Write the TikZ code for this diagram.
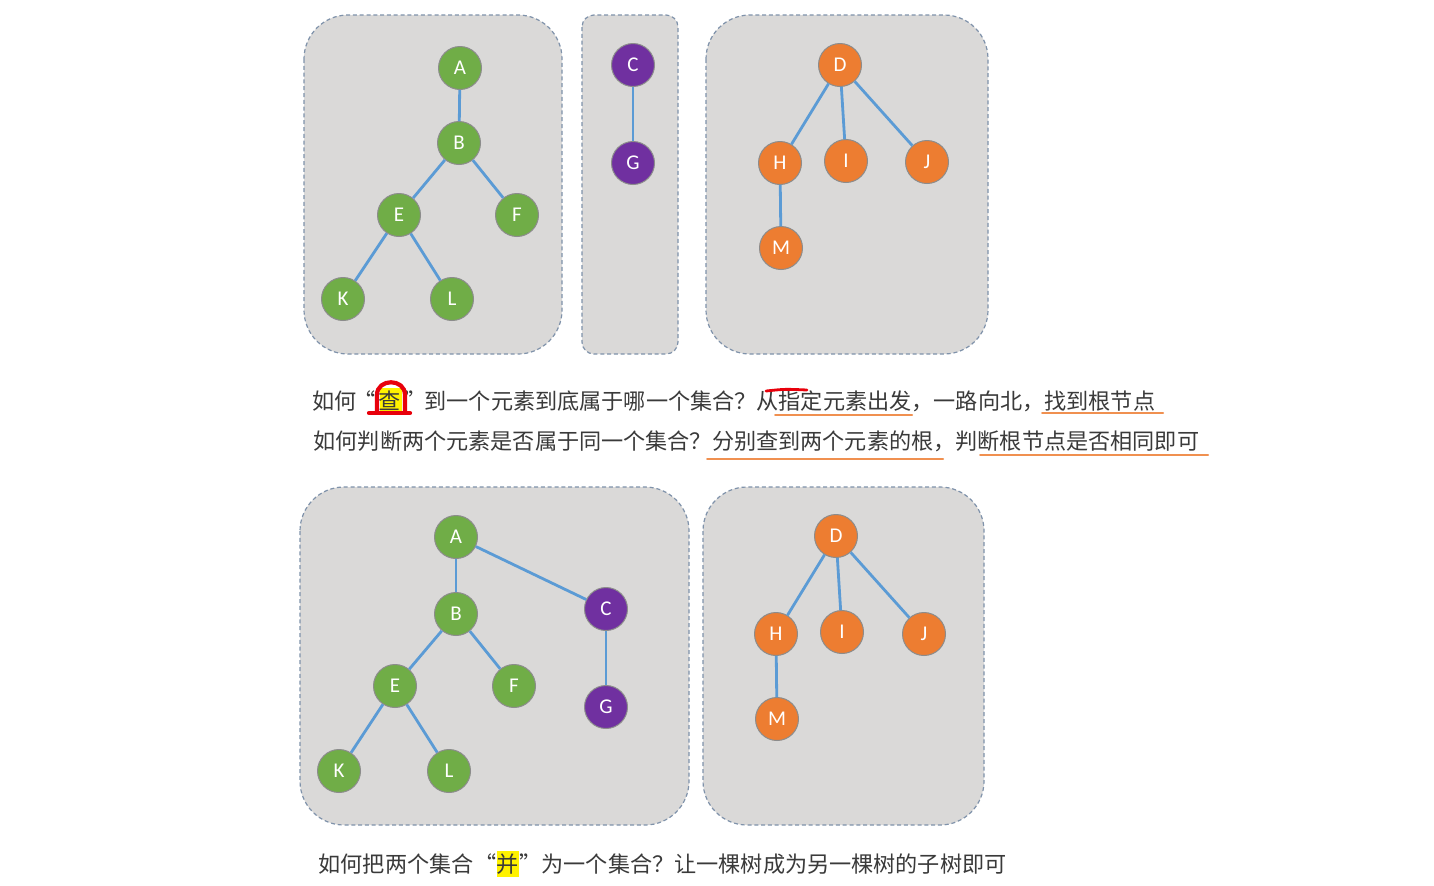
\documentclass[tikz,border=0pt]{standalone}
\usepackage{fontspec}
\setsansfont{Carlito}
\newfontfamily\cjkfont{Noto Sans CJK SC}
\usepackage{xcolor}
\definecolor{setfill}{HTML}{DAD9D8}
\definecolor{setline}{HTML}{7F92AA}
\definecolor{treegreen}{HTML}{70AD47}
\definecolor{treepurple}{HTML}{7030A0}
\definecolor{treeorange}{HTML}{ED7D31}
\definecolor{edgeblue}{HTML}{5B9BD5}
\definecolor{markred}{HTML}{E8000B}
\definecolor{markyellow}{HTML}{FFF200}
\definecolor{ink}{HTML}{3A3A3A}
\usetikzlibrary{backgrounds}
\tikzset{
  every picture/.style={line width=0.6pt},
  setbox/.style={fill=setfill, draw=setline, dash pattern=on 2pt off 1.4pt, line width=0.6pt, rounded corners=#1},
  setbox/.default=22pt,
  elem/.style={circle, minimum size=21.5pt, inner sep=0pt, draw=black!45, line width=0.5pt,
    fill=#1, text=white, font=\sffamily\fontsize{10.5pt}{11pt}\selectfont},
  link/.style={draw=edgeblue, line width=1.4pt},
  say/.style={anchor=west, inner sep=0pt, text=ink, font=\cjkfont\fontsize{11.07pt}{13pt}\selectfont},
  under/.style={draw=treeorange!85, line width=1pt, line cap=round},
  pen/.style={draw=markred, line width=2.1pt, line cap=round},
  glow/.style={fill=markyellow},
}

\begin{document}
\begin{tikzpicture}[x=0.5pt, y=-0.5pt]
  \fill[white] (0,0) rectangle (1434,885);
  \useasboundingbox (0,0) rectangle (1434,885);

  % sets before the union
  \draw[setbox] (304,15) rectangle (562,354);
  \draw[setbox=6pt] (582,15) rectangle (678,354);
  \draw[setbox] (706,15) rectangle (988,354);
  % sets after the union
  \draw[setbox] (300,487) rectangle (689,825);
  \draw[setbox] (703,487) rectangle (984,825);

  % upper forest
  \foreach \name/\x/\y/\c in {A/460/68/treegreen, B/459/143/treegreen, E/399/215/treegreen,
      F/517/215/treegreen, K/343/299/treegreen, L/452/299/treegreen,
      C/633/65/treepurple, G/633/163/treepurple,
      D/840/65/treeorange, H/780/163/treeorange, I/846/161/treeorange,
      J/927/162/treeorange, M/781/248/treeorange}
    \node[elem=\c] (t\name) at (\x,\y) {\name};
  \foreach \a/\b in {A/B, B/E, B/F, E/K, E/L, C/G, D/H, D/I, D/J, H/M}
    \draw[link] (t\a) -- (t\b);

  % lower forest
  \foreach \name/\x/\y/\c in {A/456/537/treegreen, B/456/614/treegreen, E/395/686/treegreen,
      F/514/686/treegreen, K/339/771/treegreen, L/449/771/treegreen,
      C/606/609/treepurple, G/606/707/treepurple,
      D/836/536/treeorange, H/776/634/treeorange, I/842/632/treeorange,
      J/924/634/treeorange, M/777/719/treeorange}
    \node[elem=\c] (b\name) at (\x,\y) {\name};
  \foreach \a/\b in {A/B, A/C, B/E, B/F, E/K, E/L, C/G, D/H, D/I, D/J, H/M}
    \draw[link] (b\a) -- (b\b);

  % highlights behind the key words
  \fill[glow] (380,388) rectangle (402,411);
  \fill[glow] (497,851) rectangle (519,877);

  % questions
  \node[say] (findA) at (312,401) {如何};
  \node[say, anchor=center] (findB) at (390,401) {“\hspace{1.5pt}查\hspace{1.5pt}”};
  \node[say] (findC) at (424,401) {到一个元素到底属于哪一个集合？从指定元素出发，一路向北，找到根节点};
  \node[say] (same) at (313,441) {如何判断两个元素是否属于同一个集合？分别查到两个元素的根，判断根节点是否相同即可};
  \node[say] (joinA) at (318,864) {如何把两个集合};
  \node[say, anchor=center] (joinB) at (508,864) {“并”};
  \node[say] (joinC) at (541,864) {为一个集合？让一棵树成为另一棵树的子树即可};

  % hand marks
  \draw[pen] (377,412) -- (377,395) .. controls (377,378) and (405,378) .. (405,395) -- (405,412);
  \draw[pen] (369,413) -- (410,413);
  \draw[pen, line width=1.4pt] (766,391) .. controls (785,389) .. (807,390);
  \draw[under] (775,415) -- (912,415);
  \draw[under] (1042,413) -- (1163,413);
  \draw[under] (707,459) -- (943,459);
  \draw[under] (980,455) -- (1208,455);
\end{tikzpicture}
\end{document}
